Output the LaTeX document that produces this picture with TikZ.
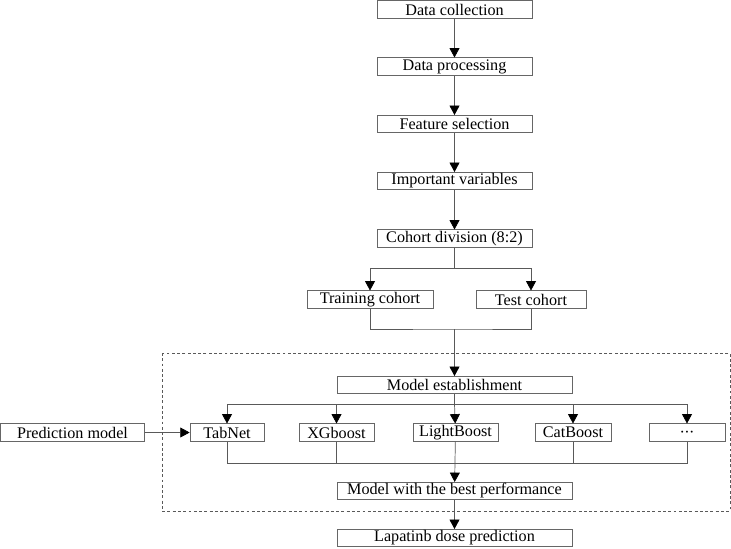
\documentclass[tikz,border=0pt]{standalone}
\usepackage{fontspec}
\setmainfont{Liberation Serif}
\usetikzlibrary{arrows.meta}
\tikzset{
  box/.style={draw=black!60, line width=0.6pt, minimum height=0.52cm, inner sep=0pt, font=\fontsize{13.8}{15}\selectfont},
  link/.style={draw=black!65, line width=0.6pt},
}
\begin{document}
\begin{tikzpicture}[x=0.03cm, y=-0.03cm, >={Triangle[length=8pt, width=8.5pt, color=black]}]
\useasboundingbox (0,0) rectangle (731,548);
\node[box, minimum width=4.65cm] (dc) at (454.5,9.5) {Data collection};
\node[box, minimum width=4.65cm] (dp) at (454.5,66.5) {Data processing};
\node[box, minimum width=4.65cm] (fs) at (454.5,124) {Feature selection};
\node[box, minimum width=4.65cm] (iv) at (454.5,181) {Important variables};
\node[box, minimum width=4.65cm] (cd) at (454.5,238.5) {Cohort division (8:2)};
\node[box, minimum width=3.78cm] (tc) at (370,299.5) {Training cohort};
\node[box, minimum width=3.3cm] (te) at (531,299.5) {Test cohort};
\node[box, minimum width=7.05cm] (me) at (454.5,385) {Model establishment};
\node[box, minimum width=4.3cm] (pm) at (72.5,432.5) {Prediction model};
\node[box, minimum width=2.22cm] (tab) at (227,432.5) {TabNet};
\node[box, minimum width=2.25cm] (xg) at (336.5,432.5) {XGboost};
\node[box, minimum width=2.55cm] (lb) at (455.5,432.5) {LightBoost};
\node[box, minimum width=2.28cm] (cb) at (573,432.5) {CatBoost};
\node[box, minimum width=2.28cm] (dots) at (687,432.5) {\smash{\raisebox{-4pt}{\textperiodcentered\kern-0.5pt\textperiodcentered\kern-0.5pt\textperiodcentered}}};
\node[box, minimum width=7.05cm] (best) at (454.5,491) {Model with the best performance};
\node[box, minimum width=7.05cm] (lap) at (454.5,538) {Lapatinb dose prediction};
\coordinate (split1) at (454.5,268);
\coordinate (merge1) at (454.5,329);
\coordinate (split2) at (454.5,404);
\coordinate (merge2) at (454.5,463);
\draw[link, ->] (dc) -- (dp);
\draw[link, ->] (dp) -- (fs);
\draw[link, ->] (fs) -- (iv);
\draw[link, ->] (iv) -- (cd);
\draw[link] (cd) -- (split1);
\draw[link, ->] (split1) -| (tc);
\draw[link, ->] (split1) -| (te);
\draw[link] (tc) |- (merge1) -| (te);
\draw[link, ->] (merge1) -- (me);
\draw[link] (me) -- (split2);
\draw[link, ->] (split2) -| (tab);
\draw[link, ->] (split2) -| (xg);
\draw[link, ->] (split2) -| (cb);
\draw[link, ->] (split2) -| (dots);
\draw[link, ->] (split2) -- (lb);
\draw[link, ->] (pm) -- (tab);
\draw[link] (tab) |- (merge2) -| (dots);
\draw[link] (xg) |- (merge2);
\draw[link] (cb) |- (merge2);
\draw[link, ->] (lb) -- (best);
\draw[link, ->] (best) -- (lap);
\draw[link, dash pattern=on 2.5pt off 2pt] (162,353) rectangle (730,511);
\end{tikzpicture}
\end{document}
